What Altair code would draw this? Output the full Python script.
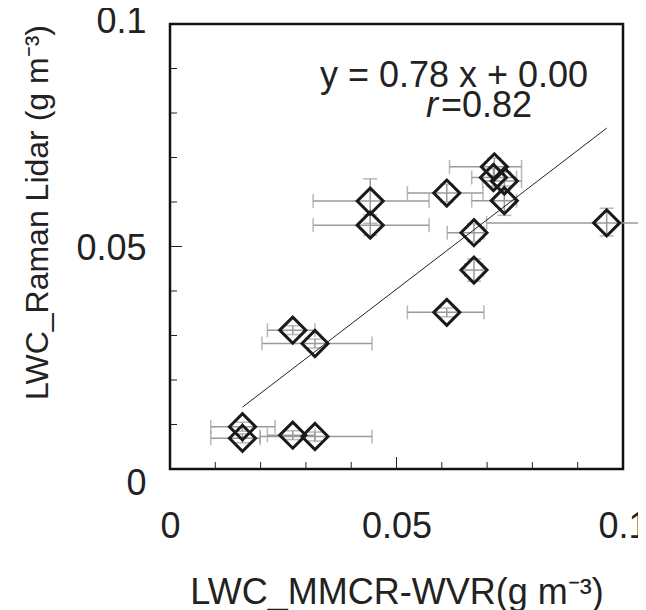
import altair as alt
import pandas as pd

# ---- data ----
x_vals = [0.0442, 0.0442, 0.0611, 0.0716, 0.0714, 0.0738, 0.0738, 0.0964, 0.0671,
          0.0671, 0.0611, 0.0271, 0.0320, 0.0160, 0.0160, 0.0271, 0.0320]
y_vals = [0.0602, 0.0548, 0.0620, 0.0679, 0.0655, 0.0647, 0.0603, 0.0553, 0.0531,
          0.0447, 0.0352, 0.0312, 0.0282, 0.0095, 0.0069, 0.0076, 0.0073]
x_lo = [0.0316, 0.0316, 0.0524, 0.0617, 0.0666, 0.0690, 0.0666, 0.0699, 0.0612,
        0.0651, 0.0524, 0.0215, 0.0203, 0.0090, 0.0090, 0.0215, 0.0199]
x_hi = [0.0572, 0.0572, 0.0691, 0.0776, 0.0765, 0.0776, 0.0765, 0.1035, 0.0693,
        0.0691, 0.0693, 0.0320, 0.0446, 0.0232, 0.0199, 0.0320, 0.0446]
y_lo = [0.0552, 0.0525, 0.0600, 0.0659, 0.0635, 0.0627, 0.0570, 0.0524, 0.0511,
        0.0422, 0.0342, 0.0302, 0.0272, 0.0085, 0.0059, 0.0066, 0.0063]
y_hi = [0.0652, 0.0571, 0.0640, 0.0699, 0.0675, 0.0667, 0.0636, 0.0586, 0.0551,
        0.0472, 0.0362, 0.0322, 0.0292, 0.0105, 0.0079, 0.0086, 0.0083]

fit_x = [0.0160, 0.0964]
fit_y = [0.0139, 0.0766]

minor_ticks = [0.01, 0.02, 0.03, 0.04, 0.06, 0.07, 0.08, 0.09]
major_ticks = [0.05]
label_ticks = [0, 0.05, 0.1]

equation = "y = 0.78 x + 0.00"
r_label = "r"
r_value = "=0.82"
x_title = "LWC_MMCR-WVR(g m\u207b\u00b3)"
y_title = "LWC_Raman Lidar (g m\u207b\u00b3)"

W, H = 453, 445
FONT = "Liberation Sans"
FS = 36
ERR = "#9a9a9a"
TXT = "#222"

df = pd.DataFrame({"x": x_vals, "y": y_vals, "xlo": x_lo, "xhi": x_hi,
                   "ylo": y_lo, "yhi": y_hi})
fit = pd.DataFrame({"x": fit_x, "y": fit_y})
minor = pd.DataFrame({"t": minor_ticks})
major = pd.DataFrame({"t": major_ticks})

xs = alt.Scale(domain=[0, 0.1], nice=False, zero=False)
ys = alt.Scale(domain=[0, 0.1], nice=False, zero=False)

xaxis = alt.Axis(values=label_ticks, format="~g", ticks=False, domain=False, grid=False,
                 labelFont=FONT, labelFontSize=FS, labelColor=TXT, labelPadding=40,
                 labelBaseline="top", labelFlush=False,
                 title=x_title, titleFont=FONT, titleFontSize=36, titleFontWeight="normal",
                 titleColor=TXT, titleX=W / 2, titleY=134, titleBaseline="alphabetic")
yaxis = alt.Axis(values=label_ticks, format="~g", ticks=False, domain=False, grid=False,
                 labelFont=FONT, labelFontSize=FS, labelColor=TXT, labelPadding=24,
                 labelBaseline="middle", labelFlush=False,
                 labelOffset={"condition": [{"test": "datum.value === 0.1", "value": -3},
                                            {"test": "datum.value === 0", "value": 14}],
                              "value": 2},
                 title=y_title, titleFont=FONT, titleFontSize=32, titleFontWeight="normal",
                 titleColor=TXT, titleX=-123, titleY=188, titleAngle=-90,
                 titleBaseline="alphabetic", titleAlign="center")

base = alt.Chart(df)

axes_layer = base.mark_point(opacity=0).encode(
    x=alt.X("x:Q", scale=xs, axis=xaxis),
    y=alt.Y("y:Q", scale=ys, axis=yaxis),
)

xerr = base.mark_rule(color=ERR, strokeWidth=1.5).encode(
    x=alt.X("xlo:Q", scale=xs), x2="xhi:Q", y=alt.Y("y:Q", scale=ys))
xcap_lo = base.mark_tick(color=ERR, thickness=1.5, size=14, orient="vertical").encode(
    x=alt.X("xlo:Q", scale=xs), y=alt.Y("y:Q", scale=ys))
xcap_hi = base.mark_tick(color=ERR, thickness=1.5, size=14, orient="vertical").encode(
    x=alt.X("xhi:Q", scale=xs), y=alt.Y("y:Q", scale=ys))
yerr = base.mark_rule(color=ERR, strokeWidth=1.5).encode(
    x=alt.X("x:Q", scale=xs), y=alt.Y("ylo:Q", scale=ys), y2="yhi:Q")
ycap_lo = base.mark_tick(color=ERR, thickness=1.5, size=14, orient="horizontal").encode(
    x=alt.X("x:Q", scale=xs), y=alt.Y("ylo:Q", scale=ys))
ycap_hi = base.mark_tick(color=ERR, thickness=1.5, size=14, orient="horizontal").encode(
    x=alt.X("x:Q", scale=xs), y=alt.Y("yhi:Q", scale=ys))

fit_line = alt.Chart(fit).mark_line(color=TXT, strokeWidth=1).encode(
    x=alt.X("x:Q", scale=xs), y=alt.Y("y:Q", scale=ys))

points = base.mark_point(shape="diamond", size=680, filled=False, color="#1a1a1a",
                         strokeWidth=3, opacity=1).encode(
    x=alt.X("x:Q", scale=xs), y=alt.Y("y:Q", scale=ys))

# inward ticks on bottom and left axes
xt_minor = alt.Chart(minor).mark_rule(color=TXT, strokeWidth=1).encode(
    x=alt.X("t:Q", scale=xs), y=alt.value(H), y2=alt.value(H - 7))
xt_major = alt.Chart(major).mark_rule(color=TXT, strokeWidth=1).encode(
    x=alt.X("t:Q", scale=xs), y=alt.value(H), y2=alt.value(H - 12))
yt_minor = alt.Chart(minor).mark_rule(color=TXT, strokeWidth=1).encode(
    y=alt.Y("t:Q", scale=ys), x=alt.value(0), x2=alt.value(7))
yt_major = alt.Chart(major).mark_rule(color=TXT, strokeWidth=1).encode(
    y=alt.Y("t:Q", scale=ys), x=alt.value(0), x2=alt.value(12))

eq_text = alt.Chart(pd.DataFrame({"t": [equation]})).mark_text(
    font=FONT, fontSize=FS, color=TXT, align="center", baseline="alphabetic").encode(
    text="t:N", x=alt.value(284), y=alt.value(63))
r_text = alt.Chart(pd.DataFrame({"t": [r_label]})).mark_text(
    font=FONT, fontSize=FS, fontStyle="italic", color=TXT, align="right",
    baseline="alphabetic").encode(text="t:N", x=alt.value(268), y=alt.value(93))
rv_text = alt.Chart(pd.DataFrame({"t": [r_value]})).mark_text(
    font=FONT, fontSize=FS, color=TXT, align="left", baseline="alphabetic").encode(
    text="t:N", x=alt.value(271), y=alt.value(93))

chart = alt.layer(
    axes_layer, xerr, xcap_lo, xcap_hi, yerr, ycap_lo, ycap_hi, fit_line, points,
    xt_minor, xt_major, yt_minor, yt_major, eq_text, r_text, rv_text
).properties(
    width=W, height=H,
    autosize=alt.AutoSizeParams(type="none"),
    padding={"left": 162, "top": 16, "right": 15, "bottom": 141},
    background="white",
).configure_view(stroke="#111", strokeWidth=2.5)

chart.save("out.html", embed_options={"renderer": "svg", "actions": False})
